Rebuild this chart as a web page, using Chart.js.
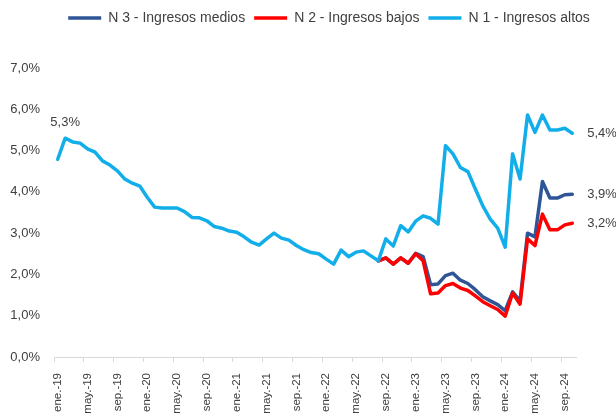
<!DOCTYPE html>
<html>
<head>
<meta charset="utf-8">
<script src="https://cdn.jsdelivr.net/npm/chart.js@4.4.1/dist/chart.umd.min.js"></script>
<style>
  html, body { margin: 0; padding: 0; background: #fff; }
</style>
</head>
<body>
<canvas id="grafico" width="616" height="414"></canvas>
<script>
// meses: ene.-19 .. oct.-24
const meses = [
  'ene.-19','feb.-19','mar.-19','abr.-19','may.-19','jun.-19','jul.-19','ago.-19','sep.-19','oct.-19','nov.-19','dic.-19',
  'ene.-20','feb.-20','mar.-20','abr.-20','may.-20','jun.-20','jul.-20','ago.-20','sep.-20','oct.-20','nov.-20','dic.-20',
  'ene.-21','feb.-21','mar.-21','abr.-21','may.-21','jun.-21','jul.-21','ago.-21','sep.-21','oct.-21','nov.-21','dic.-21',
  'ene.-22','feb.-22','mar.-22','abr.-22','may.-22','jun.-22','jul.-22','ago.-22','sep.-22','oct.-22','nov.-22','dic.-22',
  'ene.-23','feb.-23','mar.-23','abr.-23','may.-23','jun.-23','jul.-23','ago.-23','sep.-23','oct.-23','nov.-23','dic.-23',
  'ene.-24','feb.-24','mar.-24','abr.-24','may.-24','jun.-24','jul.-24','ago.-24','sep.-24','oct.-24'
];

// N 1 - Ingresos altos
const n1Altos = [
  4.79, 5.30, 5.21, 5.18, 5.04, 4.96, 4.75, 4.65, 4.51, 4.31, 4.21, 4.14,
  3.87, 3.63, 3.61, 3.61, 3.61, 3.52, 3.38, 3.37, 3.30, 3.16, 3.12, 3.05,
  3.02, 2.91, 2.78, 2.71, 2.86, 3.00, 2.88, 2.83, 2.70, 2.60, 2.53, 2.50,
  2.37, 2.25, 2.59, 2.43, 2.54, 2.57, 2.45, 2.33, 2.86, 2.69, 3.18, 3.03,
  3.29, 3.42, 3.36, 3.22, 5.12, 4.92, 4.59, 4.49, 4.07, 3.66, 3.34, 3.12,
  2.66, 4.92, 4.31, 5.86, 5.44, 5.86, 5.50, 5.50, 5.54, 5.42
];

// N 2 - Ingresos bajos (desde ago.-22)
const n2Bajos = [
  null, null, null, null, null, null, null, null, null, null, null, null,
  null, null, null, null, null, null, null, null, null, null, null, null,
  null, null, null, null, null, null, null, null, null, null, null, null,
  null, null, null, null, null, null, null, 2.33, 2.40, 2.25, 2.40, 2.27,
  2.50, 2.33, 1.53, 1.55, 1.73, 1.78, 1.67, 1.61, 1.48, 1.34, 1.24, 1.15,
  0.99, 1.55, 1.28, 2.86, 2.70, 3.46, 3.08, 3.08, 3.20, 3.24
];

// N 3 - Ingresos medios (desde ago.-22)
const n3Medios = [
  null, null, null, null, null, null, null, null, null, null, null, null,
  null, null, null, null, null, null, null, null, null, null, null, null,
  null, null, null, null, null, null, null, null, null, null, null, null,
  null, null, null, null, null, null, null, 2.33, 2.40, 2.25, 2.40, 2.27,
  2.51, 2.43, 1.75, 1.77, 1.97, 2.03, 1.86, 1.78, 1.63, 1.46, 1.36, 1.27,
  1.12, 1.58, 1.36, 3.00, 2.91, 4.25, 3.85, 3.85, 3.93, 3.94
];

const fuente = '"Liberation Sans", Arial, sans-serif';
const gris = '#404040';

const fmt = v => v.toFixed(1).replace('.', ',') + '%';

// leave room between legend and plot, and move legend a bit right
const legendGap = {
  id: 'legendGap',
  beforeInit(chart) {
    const fit = chart.legend.fit;
    chart.legend.fit = function () {
      fit.call(this);
      this.height += 33;
    };
  },
  afterLayout(chart) {
    chart.legend.left += 36;
    chart.legend.right += 36;
  }
};

// data labels: 5,3% on the peak, last value at the right of each line
const dataLabels = {
  id: 'dataLabels',
  afterDatasetsDraw(chart) {
    const ctx = chart.ctx;
    ctx.save();
    ctx.font = '13px ' + fuente;
    ctx.fillStyle = gris;
    ctx.textBaseline = 'middle';
    chart.data.datasets.forEach((ds, di) => {
      const meta = chart.getDatasetMeta(di);
      const last = ds.data.length - 1;
      const p = meta.data[last];
      ctx.textAlign = 'left';
      ctx.fillText(fmt(ds.data[last]), p.x + 15, p.y);
      if (di === 2) {
        const q = meta.data[1];
        ctx.textAlign = 'center';
        ctx.fillText(fmt(ds.data[1]), q.x, q.y - 16);
      }
    });
    ctx.restore();
  }
};

new Chart(document.getElementById('grafico').getContext('2d'), {
  type: 'line',
  data: {
    labels: meses,
    datasets: [
      {
        label: 'N 3 - Ingresos medios',
        data: n3Medios,
        borderColor: '#2f5597',
        backgroundColor: '#2f5597',
        borderWidth: 3.5,
        order: 3
      },
      {
        label: 'N 2 - Ingresos bajos',
        data: n2Bajos,
        borderColor: '#ff0000',
        backgroundColor: '#ff0000',
        borderWidth: 3.5,
        order: 2
      },
      {
        label: 'N 1 - Ingresos altos',
        data: n1Altos,
        borderColor: '#12aeea',
        backgroundColor: '#12aeea',
        borderWidth: 3.5,
        order: 1
      }
    ]
  },
  options: {
    responsive: false,
    animation: false,
    layout: { padding: { left: 10, right: 40, top: 2, bottom: 0 } },
    elements: {
      point: { radius: 0 },
      line: { tension: 0, borderJoinStyle: 'round', borderCapStyle: 'round', fill: false }
    },
    plugins: {
      tooltip: { enabled: false },
      legend: {
        position: 'top',
        labels: {
          usePointStyle: true,
          pointStyle: 'line',
          pointStyleWidth: 33,
          padding: 9,
          color: gris,
          font: { family: fuente, size: 14 },
          sort: (a, b) => a.datasetIndex - b.datasetIndex
        }
      }
    },
    scales: {
      x: {
        offset: true,
        afterFit: s => { s.height = 57; },
        grid: {
          offset: true,
          drawOnChartArea: false,
          drawTicks: true,
          tickLength: 5,
          tickColor: c => (c.index % 4 === 0 ? '#d9d9d9' : 'rgba(0,0,0,0)')
        },
        border: { display: true, color: '#d9d9d9', width: 1 },
        ticks: {
          autoSkip: false,
          maxRotation: 90,
          minRotation: 90,
          padding: 11,
          color: gris,
          font: { family: fuente, size: 11.5 },
          callback: (v, i) => (i % 4 === 0 ? meses[i] : '')
        }
      },
      y: {
        min: 0,
        max: 7,
        afterFit: s => { s.width = 44; },
        grid: { display: false, drawTicks: false },
        border: { display: false },
        ticks: {
          stepSize: 1,
          padding: 14,
          color: gris,
          font: { family: fuente, size: 13 },
          callback: v => fmt(v)
        }
      }
    }
  },
  plugins: [legendGap, dataLabels]
});
</script>
</body>
</html>
